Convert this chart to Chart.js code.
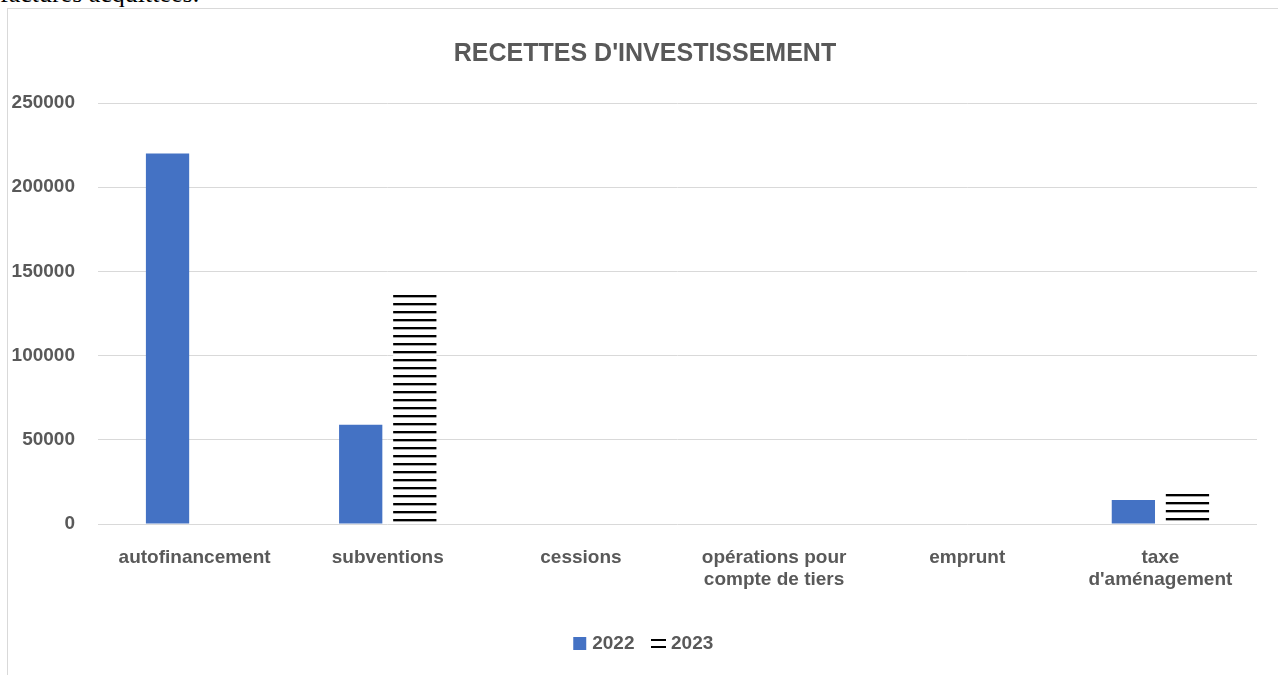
<!DOCTYPE html>
<html>
<head>
<meta charset="utf-8">
<script src="https://cdn.jsdelivr.net/npm/chart.js@4"></script>
<style>
  body { margin: 0; background: #fff; overflow: hidden; }
  #topText {
    position: absolute; left: 0; top: -21px;
    font: 26px "Liberation Serif", "Times New Roman", serif; color: #000;
    white-space: nowrap;
  }
  #frame {
    position: absolute; left: 7px; top: 8px;
    width: 1274px; height: 680px;
    border: 1px solid #d9d9d9; background: #fff;
  }
</style>
</head>
<body>
<div id="topText">factures acquittées.</div>
<div id="frame"><canvas id="myChart" width="1274" height="654"></canvas></div>
<script>
"use strict";

const categories = [
  "autofinancement",
  "subventions",
  "cessions",
  ["opérations pour", "compte de tiers"],
  "emprunt",
  ["taxe", "d'aménagement"],
];
const values2022 = [220000, 59000, 0, 0, 0, 14300];
const values2023 = [0, 136000, 0, 0, 0, 18000];
const yTicks = [0, 50000, 100000, 150000, 200000, 250000];

const grey = "#595959";
const blue = "#4472C4";
const fontFamily = "'Liberation Sans', Arial, sans-serif";

let stripeTile = document.createElement("canvas");
stripeTile.width = 8;
stripeTile.height = 8;
let tileCtx = stripeTile.getContext("2d");
tileCtx.fillStyle = "#fff";
tileCtx.fillRect(0, 0, 8, 8);
tileCtx.fillStyle = "#000";
tileCtx.fillRect(0, 0, 8, 2);
tileCtx.fillStyle = "rgba(0,0,0,0.35)";
tileCtx.fillRect(0, 2, 8, 1);

// stripes start at the top of each bar, like in the spreadsheet
function stripes(context) {
  let chart = context.chart;
  let pattern = chart.ctx.createPattern(stripeTile, "repeat");
  let yScale = chart.scales.y;
  if (yScale && context.raw !== undefined) {
    let top = Math.round(yScale.getPixelForValue(context.raw));
    pattern.setTransform(new DOMMatrix().translate(0, top));
  }
  return pattern;
}

function legendIcon(kind) {
  let c = document.createElement("canvas");
  c.width = 15;
  c.height = 13;
  let ctx = c.getContext("2d");
  if (kind === "box") {
    ctx.fillStyle = blue;
    ctx.fillRect(1, 0, 13, 13);
  } else {
    ctx.fillStyle = "#000";
    ctx.fillRect(0, 2, 15, 2);
    ctx.fillRect(0, 9, 15, 2);
  }
  return c;
}

const icons = [legendIcon("box"), legendIcon("lines")];

const data = {
  labels: categories,
  datasets: [
    {
      label: "2022",
      data: values2022,
      backgroundColor: blue,
      borderWidth: 0,
    },
    {
      label: "2023",
      data: values2023,
      backgroundColor: stripes,
      borderWidth: 0,
    },
  ],
};

const config = {
  type: "bar",
  data: data,
  options: {
    responsive: false,
    animation: false,
    devicePixelRatio: 1,
    categoryPercentage: 0.56,
    barPercentage: 0.8,
    layout: { padding: 0 },
    plugins: {
      title: {
        display: true,
        text: "RECETTES D'INVESTISSEMENT",
        color: grey,
        font: { family: fontFamily, size: 25, weight: "bold" },
        padding: { top: 30, bottom: 34 },
      },
      legend: {
        position: "bottom",
        labels: {
          color: grey,
          font: { family: fontFamily, size: 19, weight: "bold" },
          usePointStyle: true,
          pointStyleWidth: 6,
          padding: 21,
          generateLabels: function (chart) {
            let items = Chart.defaults.plugins.legend.labels.generateLabels(chart);
            items.forEach(function (item, i) {
              item.pointStyle = icons[i];
            });
            return items;
          },
        },
      },
      tooltip: { enabled: false },
    },
    scales: {
      x: {
        grid: { display: false },
        border: { display: false },
        afterFit: function (scale) {
          scale.height = 89;
        },
        ticks: {
          color: grey,
          padding: 15,
          maxRotation: 0,
          autoSkip: false,
          font: { family: fontFamily, size: 19, weight: "bold", lineHeight: 1.15 },
        },
      },
      y: {
        min: 0,
        max: 250000,
        afterFit: function (scale) {
          scale.width = 90;
        },
        afterBuildTicks: function (scale) {
          scale.ticks = yTicks.map(function (v) { return { value: v }; });
        },
        grid: { color: "#d9d9d9", lineWidth: 1, drawTicks: false },
        border: { display: false },
        ticks: {
          color: grey,
          padding: 23,
          font: { family: fontFamily, size: 19, weight: "bold" },
          callback: function (v) { return String(v); },
        },
      },
      // empty space on the right side of the plot
      spacer: {
        position: "right",
        display: true,
        grid: { display: false },
        border: { display: false },
        ticks: { display: false },
        afterFit: function (scale) {
          scale.width = 25;
        },
      },
    },
  },
};

new Chart(document.getElementById("myChart"), config);
</script>
</body>
</html>
